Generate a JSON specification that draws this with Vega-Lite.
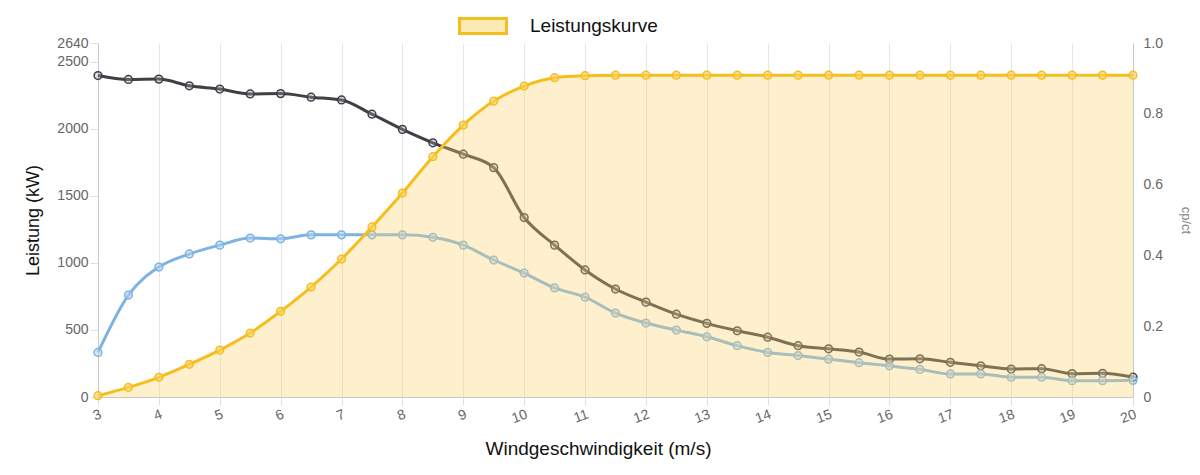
{
  "$schema": "https://vega.github.io/schema/vega-lite/v6.json",
  "width": 1035,
  "height": 354,
  "autosize": "none",
  "padding": {"left": 98, "top": 43, "right": 67, "bottom": 78},
  "background": "white",
  "data": {
    "values": [
      {"ws": 3, "power": 10, "cp": 0.126, "ct": 0.908, "series": "Leistungskurve"},
      {"ws": 3.5, "power": 72, "cp": 0.288, "ct": 0.897, "series": "Leistungskurve"},
      {"ws": 4, "power": 147, "cp": 0.367, "ct": 0.898, "series": "Leistungskurve"},
      {"ws": 4.5, "power": 244, "cp": 0.404, "ct": 0.879, "series": "Leistungskurve"},
      {"ws": 5, "power": 350, "cp": 0.429, "ct": 0.870, "series": "Leistungskurve"},
      {"ws": 5.5, "power": 477, "cp": 0.449, "ct": 0.856, "series": "Leistungskurve"},
      {"ws": 6, "power": 639, "cp": 0.447, "ct": 0.857, "series": "Leistungskurve"},
      {"ws": 6.5, "power": 820, "cp": 0.458, "ct": 0.847, "series": "Leistungskurve"},
      {"ws": 7, "power": 1029, "cp": 0.458, "ct": 0.839, "series": "Leistungskurve"},
      {"ws": 7.5, "power": 1268, "cp": 0.458, "ct": 0.799, "series": "Leistungskurve"},
      {"ws": 8, "power": 1521, "cp": 0.458, "ct": 0.756, "series": "Leistungskurve"},
      {"ws": 8.5, "power": 1792, "cp": 0.451, "ct": 0.718, "series": "Leistungskurve"},
      {"ws": 9, "power": 2028, "cp": 0.429, "ct": 0.686, "series": "Leistungskurve"},
      {"ws": 9.5, "power": 2207, "cp": 0.387, "ct": 0.648, "series": "Leistungskurve"},
      {"ws": 10, "power": 2319, "cp": 0.350, "ct": 0.507, "series": "Leistungskurve"},
      {"ws": 10.5, "power": 2381, "cp": 0.308, "ct": 0.429, "series": "Leistungskurve"},
      {"ws": 11, "power": 2396, "cp": 0.282, "ct": 0.359, "series": "Leistungskurve"},
      {"ws": 11.5, "power": 2400, "cp": 0.237, "ct": 0.305, "series": "Leistungskurve"},
      {"ws": 12, "power": 2400, "cp": 0.209, "ct": 0.268, "series": "Leistungskurve"},
      {"ws": 12.5, "power": 2400, "cp": 0.189, "ct": 0.234, "series": "Leistungskurve"},
      {"ws": 13, "power": 2400, "cp": 0.170, "ct": 0.208, "series": "Leistungskurve"},
      {"ws": 13.5, "power": 2400, "cp": 0.145, "ct": 0.187, "series": "Leistungskurve"},
      {"ws": 14, "power": 2400, "cp": 0.126, "ct": 0.169, "series": "Leistungskurve"},
      {"ws": 14.5, "power": 2400, "cp": 0.117, "ct": 0.145, "series": "Leistungskurve"},
      {"ws": 15, "power": 2400, "cp": 0.107, "ct": 0.136, "series": "Leistungskurve"},
      {"ws": 15.5, "power": 2400, "cp": 0.097, "ct": 0.127, "series": "Leistungskurve"},
      {"ws": 16, "power": 2400, "cp": 0.088, "ct": 0.107, "series": "Leistungskurve"},
      {"ws": 16.5, "power": 2400, "cp": 0.078, "ct": 0.108, "series": "Leistungskurve"},
      {"ws": 17, "power": 2400, "cp": 0.065, "ct": 0.098, "series": "Leistungskurve"},
      {"ws": 17.5, "power": 2400, "cp": 0.065, "ct": 0.088, "series": "Leistungskurve"},
      {"ws": 18, "power": 2400, "cp": 0.056, "ct": 0.079, "series": "Leistungskurve"},
      {"ws": 18.5, "power": 2400, "cp": 0.056, "ct": 0.080, "series": "Leistungskurve"},
      {"ws": 19, "power": 2400, "cp": 0.046, "ct": 0.066, "series": "Leistungskurve"},
      {"ws": 19.5, "power": 2400, "cp": 0.046, "ct": 0.067, "series": "Leistungskurve"},
      {"ws": 20, "power": 2400, "cp": 0.047, "ct": 0.056, "series": "Leistungskurve"}
    ]
  },
  "encoding": {
    "x": {
      "field": "ws",
      "type": "quantitative",
      "scale": {"domain": [3, 20], "nice": false, "zero": false},
      "axis": {
        "title": "Windgeschwindigkeit (m/s)",
        "values": [3, 4, 5, 6, 7, 8, 9, 10, 11, 12, 13, 14, 15, 16, 17, 18, 19, 20],
        "labelAngle": -20,
        "labelAlign": "right",
        "labelBaseline": "top",
        "labelPadding": 2,
        "titlePadding": 14,
        "titleFontSize": 19,
        "titleX": 500
      }
    }
  },
  "layer": [
    {
      "layer": [
        {
          "mark": {
            "type": "line",
            "interpolate": "monotone",
            "color": "#3f3f46",
            "strokeWidth": 3,
            "point": {"filled": true, "fill": "#a0a0a6", "fillOpacity": 0.35, "stroke": "#3f3f46", "strokeWidth": 1.5, "size": 60}
          },
          "encoding": {
            "y": {
              "field": "ct",
              "type": "quantitative",
              "scale": {"domain": [0, 1], "nice": false},
              "axis": {
                "orient": "right",
                "title": "cp/ct",
                "titleAngle": 90,
                "titleColor": "#888888",
                "titleFontSize": 13,
                "titlePadding": 16,
                "values": [0, 0.1, 0.2, 0.3, 0.4, 0.5, 0.6, 0.7, 0.8, 0.9, 1],
                "labelExpr": "datum.value == 0 ? '0' : format(datum.value, '.1f')",
                "labelOverlap": false,
                "grid": false,
                "ticks": false,
                "labelPadding": 10
              }
            }
          }
        },
        {
          "mark": {
            "type": "line",
            "interpolate": "monotone",
            "color": "#7db3e3",
            "strokeWidth": 3,
            "point": {"filled": true, "fill": "#b5d3ee", "fillOpacity": 0.5, "stroke": "#7db3e3", "strokeWidth": 1.5, "size": 60}
          },
          "encoding": {
            "y": {"field": "cp", "type": "quantitative"}
          }
        }
      ]
    },
    {
      "encoding": {
        "y": {
          "field": "power",
          "type": "quantitative",
          "scale": {"domain": [0, 2640], "nice": false},
          "axis": {
            "orient": "left",
            "title": "Leistung (kW)",
            "titleColor": "#111111",
            "titleFontSize": 18,
            "titlePadding": 14,
            "format": "d",
            "labelOverlap": false,
            "values": [0, 500, 1000, 1500, 2000, 2500, 2640]
          }
        }
      },
      "layer": [
        {
          "mark": {"type": "area", "interpolate": "monotone", "color": "#fcd26c", "fillOpacity": 0.34}
        },
        {
          "mark": {
            "type": "line",
            "interpolate": "monotone",
            "strokeWidth": 3,
            "point": {"filled": true, "fill": "#f8d264", "fillOpacity": 0.6, "stroke": "#f4be1f", "strokeWidth": 1.5, "size": 60}
          },
          "encoding": {
            "color": {
              "field": "series",
              "type": "nominal",
              "scale": {"range": ["#f4be1f"]},
              "legend": {
                "title": null,
                "orient": "none",
                "legendX": 360,
                "legendY": -42,
                "symbolType": "M-1,-0.32H1V0.32H-1Z",
                "symbolSize": 2209,
                "symbolStrokeColor": "#f4be1f",
                "symbolStrokeWidth": 3,
                "labelFontSize": 19,
                "labelColor": "#111111",
                "labelOffset": 22,
                "labelFont": "Liberation Sans",
                "encode": {"symbols": {"update": {"fill": {"value": "#fcd26c"}, "fillOpacity": {"value": 0.34}, "stroke": {"value": "#f4be1f"}, "strokeWidth": {"value": 3}, "strokeOpacity": {"value": 1}}}}
              }
            }
          }
        }
      ]
    }
  ],
  "resolve": {"scale": {"y": "independent"}},
  "config": {
    "font": "Liberation Sans",
    "view": {"stroke": null},
    "axis": {
      "labelFont": "Liberation Sans",
      "labelFontSize": 14,
      "labelColor": "#666666",
      "titleFont": "Liberation Sans",
      "titleFontSize": 18,
      "titleFontWeight": "normal",
      "titleColor": "#111111",
      "gridColor": "#e6e6e6",
      "tickColor": "#e0e0e0",
      "tickSize": 8,
      "domainColor": "#c8c8c8"
    }
  }
}
